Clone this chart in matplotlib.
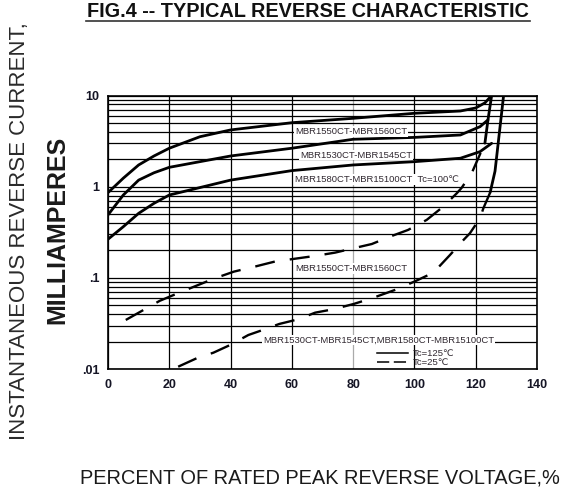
import matplotlib
matplotlib.use("Agg")
import matplotlib.pyplot as plt
from matplotlib import font_manager
from matplotlib.lines import Line2D
from matplotlib.ticker import FixedLocator, LogLocator, NullFormatter

plt.rcParams['font.family'] = ['Liberation Sans', 'DejaVu Sans']

# Tc=125C solid curves: percent of rated peak reverse voltage vs. reverse current (mA)
pct_1550 = [0, 5, 10, 15, 20, 30, 40, 60, 80, 100, 115, 120, 123, 125.2]
ir_1550 = [0.86, 1.24, 1.73, 2.17, 2.64, 3.53, 4.19, 5.03, 5.62, 6.38, 6.76, 7.3, 8.3, 10]

pct_1530 = [0, 5, 10, 15, 20, 40, 60, 80, 100, 115, 121.4, 124.0]
ir_1530 = [0.49, 0.81, 1.18, 1.42, 1.63, 2.17, 2.64, 3.31, 3.47, 3.69, 4.55, 5.4]

pct_1580 = [0, 5, 10, 15, 20, 40, 60, 80, 100, 115, 121.4, 125.2]
ir_1580 = [0.265, 0.364, 0.51, 0.656, 0.81, 1.18, 1.50, 1.73, 1.88, 2.05, 2.42, 2.99]

# breakdown knees (drawn solid)
pct_knee_a = [123.0, 124.0, 125.2]
ir_knee_a = [3.0, 5.4, 10]
pct_knee_b = [124.7, 126.3, 129.1]
ir_knee_b = [0.86, 1.48, 10]

# Tc=25C dashed curves
pct_25_upper = [5.8, 16.9, 23.3, 34.9, 41.1, 48, 54.5, 67.6, 74.1, 80.1, 86.1, 92,
                97.9, 104, 109.4, 113.8, 115.4, 117.1, 118.7, 123.0]
ir_25_upper = [0.0345, 0.056, 0.0689, 0.099, 0.117, 0.133, 0.151, 0.174, 0.189, 0.211,
               0.235, 0.283, 0.335, 0.432, 0.604, 0.845, 0.97, 1.18, 1.41, 3.0]

pct_25_lower = [22.9, 28.9, 34.4, 39.8, 45.8, 51.2, 55.9, 62.1, 67.6, 73.5, 80.1, 86.1,
                94.2, 100, 106.2, 111.6, 116, 118.1, 121.4, 122.5, 124.7]
ir_25_lower = [0.0106, 0.0131, 0.0151, 0.0183, 0.0236, 0.0273, 0.0312, 0.0351, 0.0415,
               0.0452, 0.0516, 0.0597, 0.0748, 0.091, 0.114, 0.178, 0.26, 0.308, 0.45,
               0.58, 0.86]

xticks = [0, 20, 40, 60, 80, 100, 120, 140]
yticks = [0.01, 0.1, 1, 10]
ytick_labels = ['.01', '.1', '1', '10']

# curve labels: (text, x, y)
curve_labels = [
    ('MBR1550CT-MBR1560CT', 61.0, 4.01),
    ('MBR1530CT-MBR1545CT', 62.7, 2.22),
    ('MBR1580CT-MBR15100CT  Tc=100\u2103', 61.0, 1.205),
    ('MBR1550CT-MBR1560CT', 61.0, 0.127),
    ('MBR1530CT-MBR1545CT,MBR1580CT-MBR15100CT', 50.6, 0.0208),
]

W, H = 569, 488
names = {f.name for f in font_manager.fontManager.ttflist}
narrow = 'Liberation Sans Narrow' in names
cond_family = ['Liberation Sans Narrow', 'DejaVu Sans'] if narrow else ['Liberation Sans', 'DejaVu Sans']
cond_scale = 1 / 0.82 if narrow else 1.0

fig = plt.figure(figsize=(W / 100, H / 100), dpi=100)
ax = fig.add_axes([108 / W, 1 - 369 / H, (537 - 108) / W, (369 - 95.5) / H])

ax.set_yscale('log')
ax.set_xlim(0, 140)
ax.set_ylim(0.01, 10)
ax.set_xticks(xticks)
ax.set_xticklabels([str(v) for v in xticks])
ax.yaxis.set_major_locator(FixedLocator(yticks))
ax.set_yticklabels(ytick_labels)
ax.yaxis.set_minor_locator(LogLocator(base=10, subs=[2, 3, 4, 5, 6, 7, 8, 9]))
ax.yaxis.set_minor_formatter(NullFormatter())
ax.tick_params(which='both', length=0)
ax.tick_params(axis='x', pad=7, labelsize=9, labelcolor='#151525')
ax.tick_params(axis='y', pad=6, labelsize=9, labelcolor='#151525')
for lab in ax.get_xticklabels() + ax.get_yticklabels():
    lab.set_fontweight('bold')

ax.grid(which='both', axis='y', color='black', lw=0.9)
ax.grid(which='major', axis='x', color='black', lw=0.9)
ax.get_xgridlines()[4].set_color('#aaaaaa')
for sp in ax.spines.values():
    sp.set_linewidth(1.2)
ax.set_axisbelow(True)

# curves
for px, py in [(pct_1550, ir_1550), (pct_1530, ir_1530), (pct_1580, ir_1580),
               (pct_knee_a, ir_knee_a), (pct_knee_b, ir_knee_b)]:
    ax.plot(px, py, color='black', lw=2.0, solid_capstyle='round', zorder=3)
for px, py in [(pct_25_upper, ir_25_upper), (pct_25_lower, ir_25_lower)]:
    ax.plot(px, py, color='black', lw=1.7, dashes=(8.5, 6.4), zorder=3)

for text, x, y in curve_labels:
    ax.text(x, y, text, fontsize=6.8, color='#302830', ha='left', va='center',
            bbox=dict(facecolor='white', edgecolor='none', pad=0.6), zorder=4)

handles = [Line2D([], [], color='black', lw=1.1),
           Line2D([], [], color='black', lw=1.1, dashes=(8, 3))]
ax.legend(handles, ['Tc=125\u2103', 'Tc=25\u2103'], loc='upper left',
          bbox_to_anchor=(377 / W, 1 - 349 / H), bbox_transform=fig.transFigure,
          frameon=False, fontsize=6.8, handlelength=3.3, handletextpad=0.5,
          labelspacing=0.05, borderpad=0, borderaxespad=0, labelcolor='#302830')

# titles
fig.text(308 / W, 1 - 17 / H, 'FIG.4 -- TYPICAL REVERSE CHARACTERISTIC',
         family=cond_family, fontsize=14.3 * cond_scale, fontweight='bold',
         ha='center', va='baseline', color='#111111')
fig.add_artist(Line2D([86 / W, 530 / W], [1 - 20.5 / H, 1 - 20.5 / H],
                      transform=fig.transFigure, color='#333333', lw=1.2))

fig.text(320 / W, 1 - 484 / H, 'PERCENT OF RATED PEAK REVERSE VOLTAGE,%',
         family=cond_family, fontsize=14.4 * cond_scale, ha='center', va='baseline',
         color='#1a1a1a')

fig.text(20 / W, 1 - 231 / H, 'INSTANTANEOUS REVERSE CURRENT,', fontsize=16,
         rotation=90, ha='center', va='center', color='#2a2a2a')
fig.text(57 / W, 1 - 230 / H, 'MILLIAMPERES', fontsize=18, fontweight='bold',
         rotation=90, ha='center', va='center', color='#1a1a1a')

fig.savefig('out.png', dpi=100)
